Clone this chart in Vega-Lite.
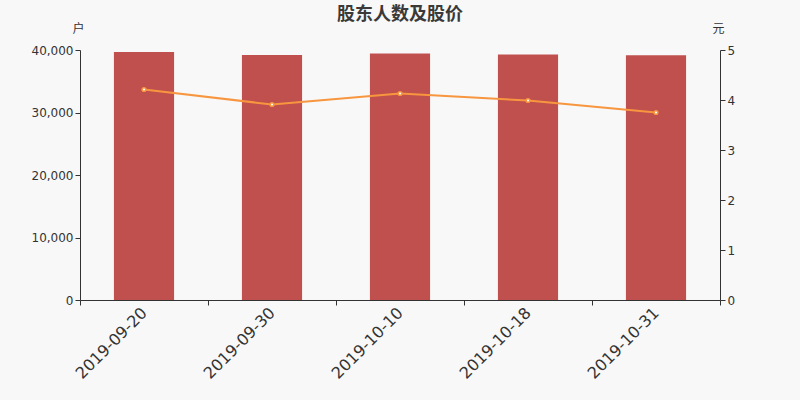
{
  "$schema": "https://vega.github.io/schema/vega-lite/v6.json",
  "description": "股东人数及股价",
  "width": 640,
  "height": 250,
  "autosize": {"type": "none"},
  "padding": {"left": 80, "top": 50, "right": 80, "bottom": 100},
  "background": "#f8f8f8",
  "title": {
    "text": "股东人数及股价",
    "font": "Noto Sans CJK SC",
    "fontSize": 18,
    "fontWeight": "bold",
    "color": "#3a3a3a",
    "anchor": "middle",
    "offset": 0,
    "dy": 2
  },
  "data": {
    "values": [
      {"date": "2019-09-20", "holders": 39700, "price": 4.21},
      {"date": "2019-09-30", "holders": 39200, "price": 3.91},
      {"date": "2019-10-10", "holders": 39450, "price": 4.13},
      {"date": "2019-10-18", "holders": 39300, "price": 3.99},
      {"date": "2019-10-31", "holders": 39150, "price": 3.75}
    ]
  },
  "encoding": {
    "x": {
      "field": "date",
      "type": "nominal",
      "sort": null,
      "scale": {"paddingInner": 0, "paddingOuter": 0},
      "axis": {
        "title": null,
        "labelAngle": -45,
        "labelAlign": "right",
        "labelBaseline": "middle",
        "labelFontSize": 16,
        "labelFont": "DejaVu Sans",
        "labelColor": "#333333",
        "labelPadding": 5,
        "tickBand": "extent",
        "tickSize": 5,
        "tickColor": "#333333",
        "domainColor": "#333333"
      }
    }
  },
  "layer": [
    {
      "mark": {"type": "bar", "color": "#c0504d", "width": {"band": 0.47}},
      "encoding": {
        "y": {
          "field": "holders",
          "type": "quantitative",
          "scale": {"domain": [0, 40000]},
          "axis": {
            "title": "户",
            "titleAngle": 0,
            "titleX": -2,
            "titleY": -22,
            "titleAlign": "center",
            "titleBaseline": "middle",
            "titleFont": "Noto Sans CJK SC",
            "titleFontSize": 12,
            "titleFontWeight": "normal",
            "titleColor": "#333333",
            "values": [0, 10000, 20000, 30000, 40000],
            "format": ",d",
            "grid": false,
            "labelFont": "DejaVu Sans",
            "labelFontSize": 12,
            "labelColor": "#333333",
            "tickSize": 5,
            "tickColor": "#333333",
            "domainColor": "#333333"
          }
        }
      }
    },
    {
      "mark": {
        "type": "line",
        "color": "#f7963f",
        "strokeWidth": 2,
        "point": {"filled": true, "fill": "#ffffff", "stroke": "#f7963f", "strokeWidth": 1.5, "size": 14}
      },
      "encoding": {
        "y": {
          "field": "price",
          "type": "quantitative",
          "scale": {"domain": [0, 5]},
          "axis": {
            "orient": "right",
            "title": "元",
            "titleAngle": 0,
            "titleX": -2,
            "titleY": -22,
            "titleAlign": "center",
            "titleBaseline": "middle",
            "titleFont": "Noto Sans CJK SC",
            "titleFontSize": 12,
            "titleFontWeight": "normal",
            "titleColor": "#333333",
            "values": [0, 1, 2, 3, 4, 5],
            "format": "d",
            "grid": false,
            "labelFont": "DejaVu Sans",
            "labelFontSize": 12,
            "labelColor": "#333333",
            "tickSize": 5,
            "tickColor": "#333333",
            "domainColor": "#333333"
          }
        }
      }
    }
  ],
  "resolve": {"scale": {"y": "independent"}},
  "config": {"view": {"stroke": null}}
}
